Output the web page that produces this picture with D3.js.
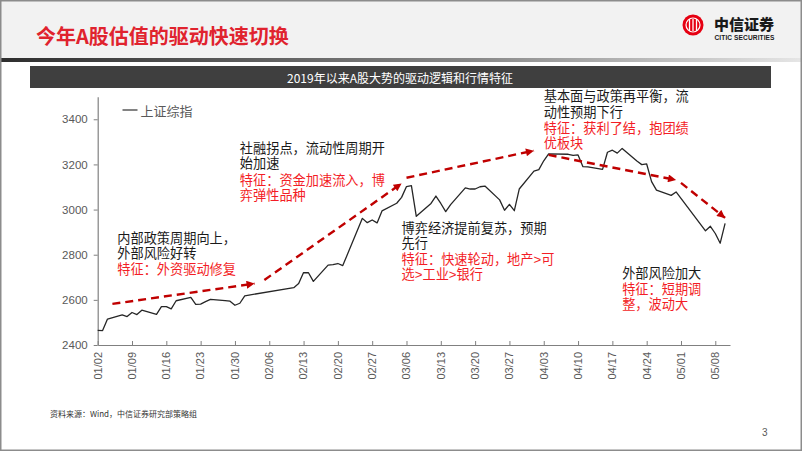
<!DOCTYPE html>
<html><head><meta charset="utf-8">
<script src="https://cdn.jsdelivr.net/npm/d3@7"></script>
<style>body{margin:0;background:#fff}svg{display:block}</style>
</head><body>
<svg id="c" width="802" height="451"></svg>
<script>
// ---------- data ----------
const tradeDates = [
"2019-01-02","2019-01-03","2019-01-04","2019-01-07","2019-01-08","2019-01-09","2019-01-10","2019-01-11",
"2019-01-14","2019-01-15","2019-01-16","2019-01-17","2019-01-18","2019-01-21","2019-01-22","2019-01-23",
"2019-01-24","2019-01-25","2019-01-28","2019-01-29","2019-01-30","2019-01-31","2019-02-01","2019-02-11",
"2019-02-12","2019-02-13","2019-02-14","2019-02-15","2019-02-18","2019-02-19","2019-02-20","2019-02-21",
"2019-02-22","2019-02-25","2019-02-26","2019-02-27","2019-02-28","2019-03-01","2019-03-04","2019-03-05",
"2019-03-06","2019-03-07","2019-03-08","2019-03-11","2019-03-12","2019-03-13","2019-03-14","2019-03-15",
"2019-03-18","2019-03-19","2019-03-20","2019-03-21","2019-03-22","2019-03-25","2019-03-26","2019-03-27",
"2019-03-28","2019-03-29","2019-04-01","2019-04-02","2019-04-03","2019-04-04","2019-04-08","2019-04-09",
"2019-04-10","2019-04-11","2019-04-12","2019-04-15","2019-04-16","2019-04-17","2019-04-18","2019-04-19",
"2019-04-22","2019-04-23","2019-04-24","2019-04-25","2019-04-26","2019-04-29","2019-04-30","2019-05-06",
"2019-05-07","2019-05-08","2019-05-09","2019-05-10"];
const closeValues = [
2465,2464,2515,2533,2526,2544,2535,2554,
2536,2570,2570,2560,2596,2611,2580,2581,
2592,2602,2597,2594,2576,2585,2618,2654,
2672,2721,2720,2682,2754,2756,2761,2752,
2804,2961,2942,2954,2941,2994,3028,3054,
3102,3106,2970,3027,3060,3027,2991,3022,
3096,3091,3091,3101,3104,3043,2997,3023,
2995,3091,3170,3177,3216,3247,3245,3240,
3242,3190,3189,3178,3254,3263,3250,3271,
3215,3199,3202,3124,3086,3063,3078,2906,
2926,2894,2851,2939];
const seriesName = "上证综指";
const yTicks = [2400,2600,2800,3000,3200,3400];
const xTickLabels = ["01/02","01/09","01/16","01/23","01/30","02/06","02/13","02/20","02/27","03/06",
"03/13","03/20","03/27","04/03","04/10","04/17","04/24","05/01","05/08"];

const trendStart = [["2019-01-05",2582],["2019-02-05",2688],["2019-03-06",3141],["2019-04-04",3242],["2019-05-01",3118]];
const trendEnd   = [["2019-02-03",2672],["2019-03-05",3116],["2019-04-01",3261],["2019-04-30",3131],["2019-05-10",2963]];

const noteAnchors = [["2019-01-06",2873],["2019-01-31",3271],["2019-03-05",2917],["2019-04-03",3500],["2019-04-19",2718]];
const noteBlack = [["内部政策周期向上，","外部风险好转"],["社融拐点，流动性周期开","始加速"],["博弈经济提前复苏，预期","先行"],["基本面与政策再平衡，流","动性预期下行"],["外部风险加大"]];
const noteRed = [["特征：外资驱动修复"],["特征：资金加速流入，博","弈弹性品种"],["特征：快速轮动，地产>可","选>工业>银行"],["特征：获利了结，抱团绩","优板块"],["特征：短期调","整，波动大"]];

const pageTitle = "今年A股估值的驱动快速切换";
const chartTitle = "2019年以来A股大势的驱动逻辑和行情特征";
const sourceText = "资料来源：Wind，中信证券研究部策略组";

// ---------- drawing ----------
const parse = d3.timeParse("%Y-%m-%d");
const svg = d3.select("#c");
const CJK = "'Noto Sans CJK SC','Noto Sans',sans-serif";
const NOTE = "'Liberation Sans','Noto Sans CJK SC',sans-serif";
const NUM = "'Liberation Sans',Arial,sans-serif";
const RED = "#F31D26";

// slide header
const defs = svg.append("defs");
const grad = defs.append("linearGradient").attr("id","band");
grad.append("stop").attr("offset","0%").attr("stop-color","#2e2e2e");
grad.append("stop").attr("offset","60%").attr("stop-color","#8a8a8a");
grad.append("stop").attr("offset","100%").attr("stop-color","#e6e6e6");
svg.append("rect").attr("x",0).attr("y",0).attr("width",802).attr("height",59).attr("fill","#F2F2F2");
svg.append("rect").attr("x",0).attr("y",58).attr("width",802).attr("height",4).attr("fill","url(#band)");
svg.append("rect").attr("x",0.75).attr("y",0.75).attr("width",800.5).attr("height",449.5)
  .attr("fill","none").attr("stroke","#8c8c8c").attr("stroke-width",1.5);
svg.append("text").attr("x",36).attr("y",35).attr("dominant-baseline","central")
  .attr("font-family",CJK).attr("font-weight","bold").attr("font-size",20).attr("fill","#E0232E").text(pageTitle);

// logo
const logo = svg.append("g");
logo.append("circle").attr("cx",693).attr("cy",25).attr("r",10.5).attr("fill","#E60012");
logo.append("circle").attr("cx",693).attr("cy",25).attr("r",7).attr("fill","none").attr("stroke","#fff").attr("stroke-width",1.2);
[689.5,693,696.5].forEach(x=>logo.append("line").attr("x1",x).attr("x2",x).attr("y1",19).attr("y2",31).attr("stroke","#fff").attr("stroke-width",1.3));
const logoText = logo.append("text").attr("fill","#1a1a1a");
logoText.append("tspan").attr("x",714).attr("y",30).attr("font-family",CJK)
  .attr("font-weight",900).attr("font-size",15).text("中信证券");
logoText.append("tspan").attr("x",714.5).attr("y",39.5).attr("font-family",NUM)
  .attr("font-weight","bold").attr("font-size",6.6).attr("textLength",60).text("CITIC SECURITIES");

// chart title bar
svg.append("rect").attr("x",30).attr("y",66).attr("width",741).attr("height",22).attr("fill","#3F3F3F");
svg.append("text").attr("x",400).attr("y",77).attr("text-anchor","middle").attr("dominant-baseline","central")
  .attr("font-family",CJK).attr("font-size",12).attr("fill","#fff").text(chartTitle);

// scales
const x = d3.scaleTime().domain([parse("2019-01-02"), parse("2019-05-11")]).range([97.7, 730]);
const y = d3.scaleLinear().domain([2400, 3500]).range([345, 96.7]);

// y axis
const yAxis = svg.append("g").attr("transform","translate(97.7,0)")
  .call(d3.axisLeft(y).tickValues(yTicks).tickFormat(d3.format("d")).tickSize(4).tickSizeOuter(0).tickPadding(6));
yAxis.select(".domain").attr("stroke","#808080").attr("stroke-width",1.2);
yAxis.selectAll(".tick line").attr("stroke","#808080");
yAxis.selectAll(".tick text").attr("font-family",NUM).attr("font-size",11.5).attr("fill","#595959");

// x axis
const xDates = xTickLabels.map(s => parse("2019-" + s.replace("/","-")));
const xAxis = svg.append("g").attr("transform","translate(0,345)")
  .call(d3.axisBottom(x).tickValues(xDates).tickSize(-4).tickSizeOuter(0).tickFormat(() => ""));
xAxis.select(".domain").attr("stroke","#808080").attr("stroke-width",1.2);
xAxis.selectAll(".tick line").attr("stroke","#808080");
svg.append("g").selectAll("text").data(xDates).join("text")
  .attr("transform", d => `translate(${x(d)},352) rotate(-90)`)
  .attr("text-anchor","end").attr("dy","0.35em")
  .attr("font-family",NUM).attr("font-size",11).attr("fill","#595959")
  .text((d,i) => xTickLabels[i]);

// series line
const pts = tradeDates.map((d,i) => [parse(d), closeValues[i]]);
svg.append("path").datum(pts)
  .attr("d", d3.line().x(d => x(d[0])).y(d => y(d[1])))
  .attr("fill","none").attr("stroke","#262626").attr("stroke-width",1.3).attr("stroke-linejoin","round");

// legend
svg.append("line").attr("x1",122.5).attr("x2",137.5).attr("y1",110).attr("y2",110).attr("stroke","#404040").attr("stroke-width",1.3);
svg.append("text").attr("x",140.5).attr("y",110).attr("dominant-baseline","central")
  .attr("font-family",CJK).attr("font-size",13).attr("fill","#595959").text(seriesName);

// trend arrows
defs.append("marker").attr("id","arr").attr("viewBox","0 0 10 10")
  .attr("refX",10).attr("refY",5).attr("markerWidth",9).attr("markerHeight",8)
  .attr("markerUnits","userSpaceOnUse").attr("orient","auto")
  .append("path").attr("d","M0,0L10,5L0,10z").attr("fill","#C00000");
svg.append("g").selectAll("line").data(trendStart).join("line")
  .attr("x1", d => x(parse(d[0]))).attr("y1", d => y(d[1]))
  .attr("x2", (d,i) => x(parse(trendEnd[i][0]))).attr("y2", (d,i) => y(trendEnd[i][1]))
  .attr("stroke","#C00000").attr("stroke-width",2.4).attr("stroke-dasharray","8,5")
  .attr("marker-end","url(#arr)");

// annotations (one text element per block, lines as tspans)
noteAnchors.forEach((a,i) => {
  const ax = x(parse(a[0])), ay = y(a[1]) + 4.6;
  const t = svg.append("text").attr("font-family",NOTE).attr("font-size",13.2);
  let yy = ay;
  noteBlack[i].forEach((s,j) => {
    yy = ay + j*15.3;
    t.append("tspan").attr("x",ax).attr("y",yy).attr("fill","#1a1a1a").text(s);
  });
  const ry = yy + 16.3;
  noteRed[i].forEach((s,j) => {
    t.append("tspan").attr("x",ax).attr("y",ry + j*15).attr("fill",RED).text(s);
  });
});

// footer
svg.append("text").attr("x",50).attr("y",413).attr("dominant-baseline","central")
  .attr("font-family",CJK).attr("font-size",8).attr("fill","#333").text(sourceText);
svg.append("text").attr("x",762).attr("y",432).attr("dominant-baseline","central")
  .attr("font-family",NUM).attr("font-size",10).attr("fill","#595959").text("3");
</script>
</body></html>
